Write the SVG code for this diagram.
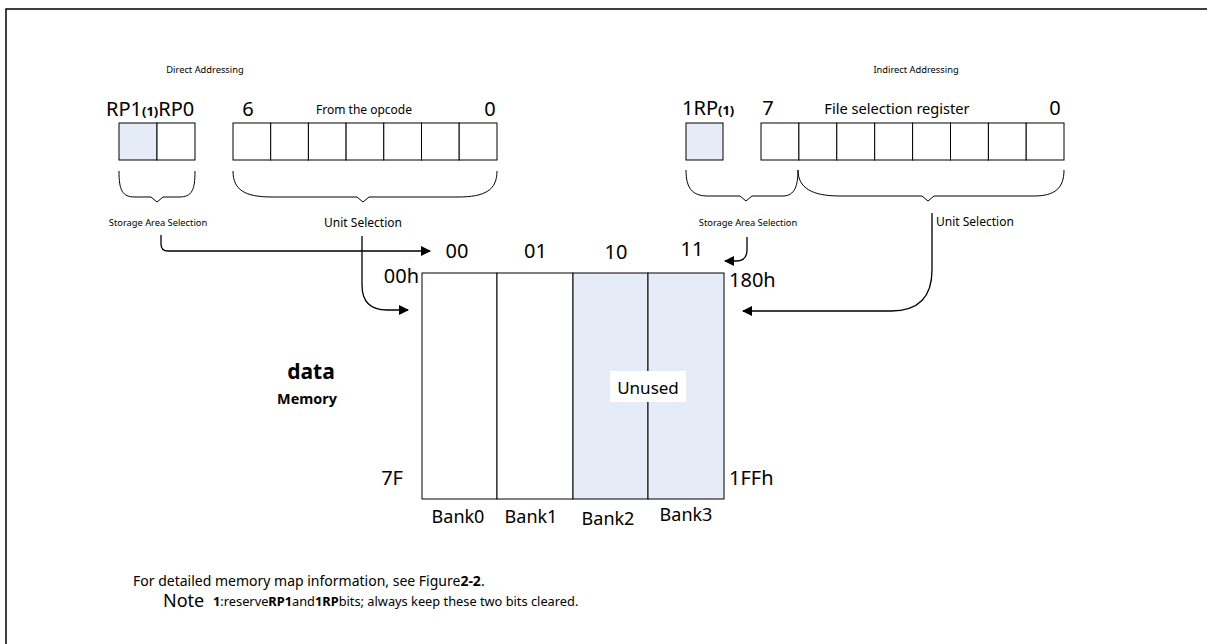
<svg xmlns="http://www.w3.org/2000/svg" width="1207" height="644" viewBox="0 0 1207 644">
<defs>
<marker id="arr" markerWidth="10" markerHeight="10" refX="9" refY="5" orient="auto" markerUnits="userSpaceOnUse">
<path d="M0,0 L10,5 L0,10 Z" fill="#000"/>
</marker>
<style>
text{font-family:"Noto Sans","Open Sans","DejaVu Sans",sans-serif;fill:#000}
.cell{fill:#fff;stroke:#000;stroke-width:1}
.sh{fill:#e6ecf7;stroke:#000;stroke-width:1}
.br{fill:none;stroke:#000;stroke-width:1}
.con{fill:none;stroke:#000;stroke-width:1.3;marker-end:url(#arr)}
.t9{font-size:9.3px}
.t12{font-size:12px}
.t20{font-size:20px}
.bank{font-size:18px}
</style>
</defs>
<rect width="1207" height="644" fill="#fff"/>
<path d="M6,644 L6,9 L1207,9" fill="none" stroke="#000" stroke-width="1.5"/>

<g id="direct">
<text class="t9" x="205" y="73" text-anchor="middle">Direct Addressing</text>
<text x="106" y="116" class="t20">RP1<tspan font-size="13" font-weight="bold">(1)</tspan>RP0</text>
<rect class="sh" x="119" y="123" width="38" height="37"/>
<rect class="cell" x="157" y="123" width="38" height="37"/>
<text class="t20" x="248" y="116" text-anchor="middle">6</text>
<text class="t12" x="364" y="114" text-anchor="middle">From the opcode</text>
<text class="t20" x="490" y="116" text-anchor="middle">0</text>
<rect class="cell" x="233" y="123" width="37.7" height="37"/>
<rect class="cell" x="270.7" y="123" width="37.7" height="37"/>
<rect class="cell" x="308.4" y="123" width="37.7" height="37"/>
<rect class="cell" x="346.1" y="123" width="37.7" height="37"/>
<rect class="cell" x="383.8" y="123" width="37.7" height="37"/>
<rect class="cell" x="421.5" y="123" width="37.7" height="37"/>
<rect class="cell" x="459.2" y="123" width="37.8" height="37"/>
<path class="br" d="M119,171 C119,190 122,197 135,197 L151,197 L157,202 L163,197 L179,197 C192,197 195,190 195,171"/>
<path class="br" d="M233,171 C233,190 245,197 272,197 L357,197 L363,202 L369,197 L458,197 C485,197 497,190 497,171"/>
<text class="t9" x="158" y="226" text-anchor="middle">Storage Area Selection</text>
<text class="t12" x="363" y="227" text-anchor="middle">Unit Selection</text>
</g>

<g id="indirect">
<text class="t9" x="916" y="73" text-anchor="middle">Indirect Addressing</text>
<text x="682" y="115" class="t20">1RP<tspan font-size="13" font-weight="bold">(1)</tspan></text>
<rect class="sh" x="686" y="123" width="37" height="37"/>
<text class="t20" x="768" y="115" text-anchor="middle">7</text>
<text x="897" y="114" text-anchor="middle" font-size="14.6">File selection register</text>
<text class="t20" x="1055" y="115" text-anchor="middle">0</text>
<rect class="cell" x="761" y="123" width="37.9" height="37"/>
<rect class="cell" x="798.9" y="123" width="37.9" height="37"/>
<rect class="cell" x="836.8" y="123" width="37.9" height="37"/>
<rect class="cell" x="874.7" y="123" width="37.9" height="37"/>
<rect class="cell" x="912.6" y="123" width="37.9" height="37"/>
<rect class="cell" x="950.5" y="123" width="37.9" height="37"/>
<rect class="cell" x="988.4" y="123" width="37.8" height="37"/>
<rect class="cell" x="1026.2" y="123" width="37.8" height="37"/>
<path class="br" d="M686,170 C686,188 692,196 708,196 L740,196 L746,201 L752,196 L783,196 C795,196 798,185 798,170"/>
<path class="br" d="M798,170 C798,188 812,196 840,196 L922,196 L928,201 L934,196 L1034,196 C1055,196 1064,188 1064,170"/>
<text class="t9" x="748" y="226" text-anchor="middle">Storage Area Selection</text>
<text class="t12" x="936" y="226">Unit Selection</text>
</g>

<g id="memory">
<rect class="cell" x="422" y="273" width="75" height="226"/>
<rect class="cell" x="497" y="273" width="76" height="226"/>
<rect class="sh" x="573" y="273" width="75" height="226"/>
<rect class="sh" x="648" y="273" width="76" height="226"/>
<rect x="610" y="371" width="76" height="31" fill="#fff"/>
<text x="648" y="394" text-anchor="middle" font-size="17">Unused</text>
<text class="t20" x="457" y="258" text-anchor="middle">00</text>
<text class="t20" x="535.5" y="258" text-anchor="middle">01</text>
<text class="t20" x="616" y="259" text-anchor="middle">10</text>
<text class="t20" x="692" y="256" text-anchor="middle">11</text>
<text class="t20" x="419" y="283" text-anchor="end">00h</text>
<text class="t20" x="729" y="287">180h</text>
<text class="t20" x="403" y="485" text-anchor="end">7F</text>
<text class="t20" x="729" y="485">1FFh</text>
<text class="bank" x="458" y="523" text-anchor="middle">Bank0</text>
<text class="bank" x="531" y="523" text-anchor="middle">Bank1</text>
<text class="bank" x="608" y="525" text-anchor="middle">Bank2</text>
<text class="bank" x="686" y="521" text-anchor="middle">Bank3</text>
<text x="311" y="379" text-anchor="middle" font-size="21" font-weight="bold">data</text>
<text x="307" y="404" text-anchor="middle" font-size="14.4" font-weight="bold">Memory</text>
</g>

<g id="connectors">
<path class="con" d="M161,235 L161,244 Q161,251 168,251 L430,251"/>
<path class="con" d="M362,236 L362,285 Q362,310 387,310 L408,310"/>
<path class="con" d="M747,237 L747,250 Q747,261 736,261 L725,261"/>
<path class="con" d="M932,213 L932,270 Q932,311 891,311 L743,311"/>
</g>

<g id="notes">
<text x="133" y="586" font-size="14">For detailed memory map information, see Figure<tspan font-weight="bold">2-2</tspan>.</text>
<text x="163" y="607" font-size="18">Note</text>
<text x="213" y="606" font-size="12.8"><tspan font-weight="bold">1</tspan>:reserve<tspan font-weight="bold">RP1</tspan>and<tspan font-weight="bold">1RP</tspan>bits; always keep these two bits cleared.</text>
</g>
</svg>
